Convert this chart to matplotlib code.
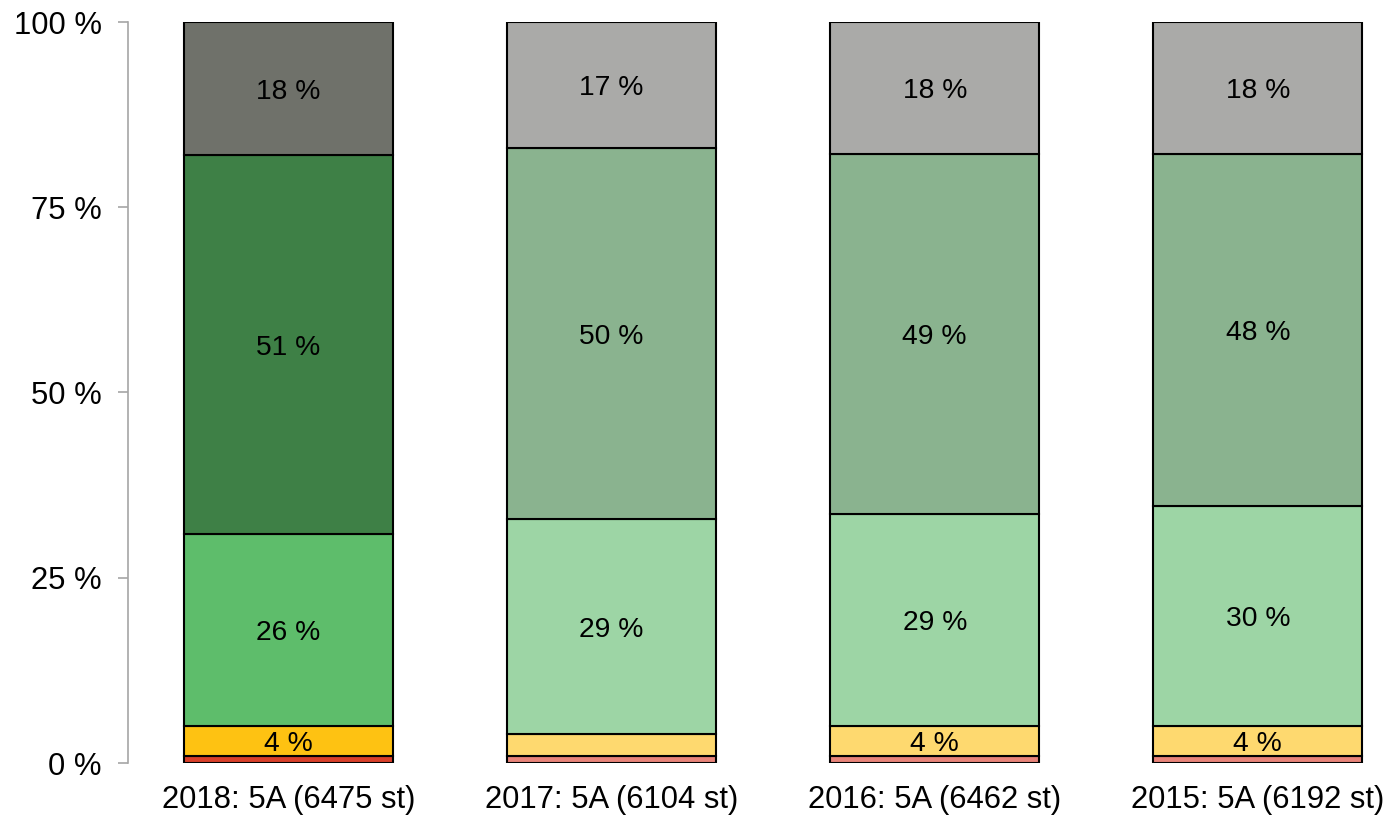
import matplotlib
matplotlib.use("Agg")
import matplotlib.pyplot as plt
import numpy as np

plt.rcParams['font.family'] = ['Liberation Sans', 'DejaVu Sans']

categories = ["2018: 5A (6475 st)", "2017: 5A (6104 st)", "2016: 5A (6462 st)", "2015: 5A (6192 st)"]
# segments from bottom to top
seg_red = [0.9, 0.9, 0.9, 0.9]
seg_yellow = [4.1, 3.0, 4.1, 4.1]
seg_lightgreen = [25.9, 29.0, 28.6, 29.7]
seg_green = [51.1, 50.1, 48.6, 47.5]
seg_grey = [18.0, 17.0, 17.8, 17.8]

series = [seg_red, seg_yellow, seg_lightgreen, seg_green, seg_grey]
colors_2018 = ["#d9402a", "#fec212", "#5ebd6b", "#3e8046", "#6f716a"]
colors_other = ["#e9847a", "#fed96f", "#9dd5a5", "#8ab38f", "#aaaaa8"]

fig = plt.figure(figsize=(13.87, 8.21), dpi=100)
ax = fig.add_axes([128/1387, 58/821, 1 - 128/1387, (763-22)/821])

x = np.arange(len(categories))
width = 0.647
bottoms = np.zeros(len(categories))
for si, vals in enumerate(series):
    vals = np.array(vals)
    cols = [colors_2018[si] if i == 0 else colors_other[si] for i in range(len(categories))]
    ax.bar(x, vals, width, bottom=bottoms, color=cols, edgecolor="black", linewidth=1.5, zorder=2)
    for i, v in enumerate(vals):
        if v >= 3.5:
            ax.text(x[i], bottoms[i] + v / 2, f"{int(round(v))} %", ha="center", va="center_baseline",
                    fontsize=20.3, color="black", zorder=3)
    bottoms += vals

ax.set_ylim(0, 100)
ax.set_xlim(-0.497, 3.40)
ax.set_yticks([0, 25, 50, 75, 100])
ax.set_yticklabels(["0 %", "25 %", "50 %", "75 %", "100 %"], fontsize=22.3)
ax.set_xticks(x)
ax.set_xticklabels(categories, fontsize=22.3)
ax.tick_params(axis="x", length=0, pad=16)
ax.tick_params(axis="y", length=7, width=1.2, color="#a6a6a6", pad=12)
for s in ["top", "right", "bottom"]:
    ax.spines[s].set_visible(False)
ax.spines["left"].set_color("#a6a6a6")
ax.spines["left"].set_linewidth(1.2)

fig.savefig("out.png", dpi=100)
